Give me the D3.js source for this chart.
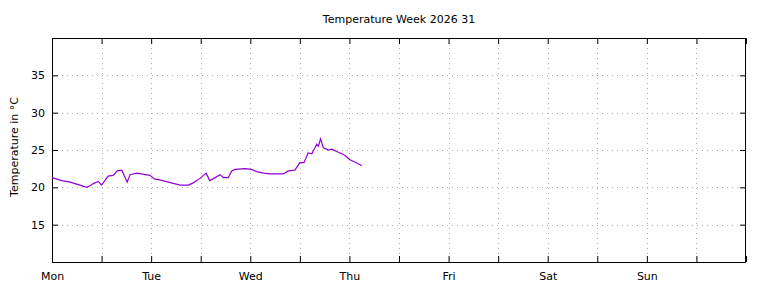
<!DOCTYPE html>
<html>
<head>
<meta charset="utf-8">
<script src="https://cdn.jsdelivr.net/npm/d3@7"></script>
<style>
  html, body { margin: 0; padding: 0; background: #fff; }
  svg { display: block; font-family: "DejaVu Sans", sans-serif; }
</style>
</head>
<body>
<svg id="chart" width="768" height="288"></svg>
<script>
const title = "Temperature Week 2026 31";
const yLabel = "Temperature in °C";
const dayLabels = ["Mon", "Tue", "Wed", "Thu", "Fri", "Sat", "Sun"];
const yTicks = [15, 20, 25, 30, 35];
// hours since Monday 00:00
const hours = [0, 2.35, 4.36, 5.57, 6.78, 8.4, 9.2, 10.0, 11.2, 12.0, 13.6, 14.8, 15.8, 16.9, 18.2, 18.9, 20.5, 23.7, 24.9, 26.1, 28.2, 31.0, 33.0, 34.2, 35.8, 37.3, 38.2, 39.5, 40.7, 41.5, 42.7, 43.5, 44.3, 46.7, 48.3, 49.6, 51.2, 52.8, 56.0, 57.2, 58.8, 60.0, 61.0, 62.0, 62.9, 64.1, 64.5, 65.0, 65.7, 66.9, 67.7, 69.3, 70.9, 72.1, 73.3, 75.0];
const temps = [21.3, 20.9, 20.7, 20.5, 20.3, 20.0, 20.2, 20.5, 20.8, 20.3, 21.5, 21.6, 22.2, 22.3, 20.7, 21.7, 21.9, 21.6, 21.1, 21.0, 20.7, 20.3, 20.3, 20.6, 21.2, 21.9, 20.9, 21.3, 21.7, 21.3, 21.3, 22.2, 22.4, 22.5, 22.4, 22.1, 21.9, 21.8, 21.8, 22.2, 22.3, 23.3, 23.3, 24.6, 24.5, 25.8, 25.5, 26.5, 25.3, 25.0, 25.1, 24.7, 24.3, 23.7, 23.4, 22.9];

const svg = d3.select("#chart");
const L = 52, R = 746, T = 38, B = 262;
const x = d3.scaleLinear().domain([0, 168]).range([L, R]);
const y = d3.scaleLinear().domain([10, 40]).range([B, T]);
const xTickVals = d3.range(0, 169, 12);

// grid
const grid = svg.append("g").attr("stroke", "#b0b0b0").attr("stroke-width", 1).attr("stroke-dasharray", "1,4");
grid.selectAll("line.v").data(xTickVals.filter(v => v > 0 && v < 168)).join("line")
  .attr("x1", d => Math.round(x(d)) + 0.5).attr("x2", d => Math.round(x(d)) + 0.5)
  .attr("y1", T).attr("y2", B);
grid.selectAll("line.h").data(yTicks).join("line")
  .attr("y1", d => Math.round(y(d)) + 0.5).attr("y2", d => Math.round(y(d)) + 0.5)
  .attr("x1", L).attr("x2", R);

// axes (gnuplot style, inward ticks, mirrored)
const fmtX = d => (d % 24 === 0 && d / 24 < dayLabels.length) ? dayLabels[d / 24] : "";
const axB = svg.append("g").attr("transform", `translate(0,${B})`)
  .call(d3.axisBottom(x).tickValues(xTickVals).tickFormat(fmtX).tickSizeInner(-6).tickSizeOuter(0).tickPadding(10));
const axT = svg.append("g").attr("transform", `translate(0,${T})`)
  .call(d3.axisTop(x).tickValues(xTickVals).tickFormat("").tickSizeInner(-6).tickSizeOuter(0));
const axL = svg.append("g").attr("transform", `translate(${L},0)`)
  .call(d3.axisLeft(y).tickValues(yTicks).tickFormat(d3.format("d")).tickSizeInner(-6).tickSizeOuter(0).tickPadding(7));
const axR = svg.append("g").attr("transform", `translate(${R},0)`)
  .call(d3.axisRight(y).tickValues(yTicks).tickFormat("").tickSizeInner(-6).tickSizeOuter(0));
[axB, axT, axL, axR].forEach(g => {
  g.select(".domain").remove();
  g.selectAll("line").attr("stroke", "#000");
  g.selectAll("text").attr("fill", "#000").attr("font-size", 11).attr("font-family", "DejaVu Sans, sans-serif");
});

// frame
svg.append("rect").attr("x", L + 0.5).attr("y", T + 0.5).attr("width", R - L - 1).attr("height", B - T)
  .attr("fill", "none").attr("stroke", "#000").attr("stroke-width", 1);

// line
const line = d3.line().x((d, i) => x(hours[i])).y(d => y(d));
svg.append("path").datum(temps).attr("d", line)
  .attr("fill", "none").attr("stroke", "#9400d3").attr("stroke-width", 1.2);

// title
svg.append("text").attr("x", (L + R) / 2).attr("y", 23).attr("text-anchor", "middle")
  .attr("font-size", 11).attr("fill", "#000").text(title);

// y label
svg.append("text").attr("transform", `translate(18,${(T + B) / 2 - 3}) rotate(-90)`)
  .attr("text-anchor", "middle").attr("font-size", 11).attr("fill", "#000").text(yLabel);
</script>
</body>
</html>
